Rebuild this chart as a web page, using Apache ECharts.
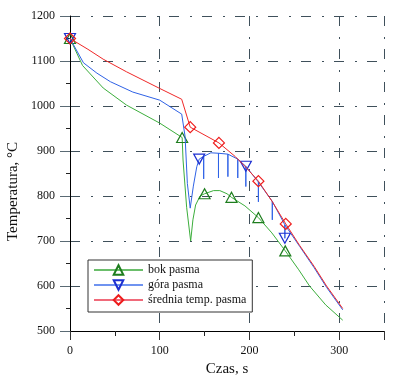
<!DOCTYPE html>
<html>
<head>
<meta charset="utf-8">
<script src="https://cdn.jsdelivr.net/npm/echarts@6/dist/echarts.min.js"></script>
<style>
html,body{margin:0;padding:0;background:#fff;}
#c{width:400px;height:378px;}
</style>
</head>
<body>
<div id="c"></div>
<script>
// ---- data (time in s, temperature in °C) ----
const seriesNames = ['bok pasma', 'góra pasma', 'średnia temp. pasma'];

const bokT = [0, 14, 37, 63, 100, 125, 126, 130, 134.5, 137, 140, 145, 150, 160, 167, 175, 180, 195, 210, 225, 240, 255, 267, 285, 304];
const bokV = [1150, 1090, 1040, 1002, 962, 930, 880, 775, 700, 747, 780, 800, 805, 812, 812, 805, 797, 778, 752, 718, 678, 636, 600, 558, 524];
const bokMarks = [0, 125, 150, 180, 210, 240];

const goraT = [0, 15, 30, 45, 70, 100, 124.5, 128.3, 130.8, 134, 137.5, 141.3, 144,
  149, 149, 149, 157, 165.5, 165.5, 165.5, 176, 176, 176, 187, 187, 187,
  196, 196, 196, 210, 210, 210, 225.5, 225.5, 225.5, 239.5, 239.5, 239.5,
  256, 272, 286, 304];
const goraV = [1150, 1096, 1073, 1054, 1031, 1013, 982, 932, 828, 773, 822, 865, 882,
  888, 838, 888, 896, 895, 840, 895, 893, 843, 893, 882, 840, 882,
  866, 821, 866, 831, 787, 831, 788, 747, 788, 736, 706, 736,
  688, 641, 597, 547];
const goraMarkIdx = [0, 12, 26, 36];

const sredT = [0, 20, 37, 63, 100, 124.5, 134, 166, 184, 196, 210, 225, 240.5, 256, 272, 286, 304];
const sredV = [1150, 1126, 1104, 1076, 1039, 1015, 953, 918, 888, 864, 833, 789, 738, 690, 644, 600, 550];
const sredMarks = [0, 134, 166, 210, 240.5];

const xTicks = {min: 0, max: 350, interval: 100};
const yTicks = {min: 500, max: 1200, interval: 100};

// ---- build ----
function build(ts, vs, isMark) {
  return ts.map((t, i) => {
    const item = {value: [t, vs[i]]};
    if (!isMark(t, i)) item.symbol = 'none';
    return item;
  });
}
const bokData = build(bokT, bokV, (t) => bokMarks.indexOf(t) >= 0);
const goraData = build(goraT, goraV, (t, i) => goraMarkIdx.indexOf(i) >= 0);
const sredData = build(sredT, sredV, (t) => sredMarks.indexOf(t) >= 0);

const FONT = 'Liberation Serif';
const gridDash = [10, 11, 2, 10];
const gridColor = '#3f505b';

const chart = echarts.init(document.getElementById('c'), null, {renderer: 'canvas'});
chart.setOption({
  animation: false,
  backgroundColor: '#ffffff',
  grid: {left: 70, right: 16, top: 16, bottom: 47, containLabel: false, outerBoundsMode: 'none'},
  xAxis: {
    type: 'value', min: xTicks.min, max: xTicks.max, interval: xTicks.interval,
    name: 'Czas, s', nameLocation: 'middle', nameGap: 27,
    nameTextStyle: {fontFamily: FONT, fontSize: 15, color: '#111'},
    axisLine: {show: true, lineStyle: {color: '#000', width: 1}},
    axisTick: {show: true, length: 9, lineStyle: {color: '#333'}},
    minorTick: {show: true, splitNumber: 2, length: 5, lineStyle: {color: '#222'}},
    axisLabel: {fontFamily: FONT, fontSize: 12, color: '#111', margin: 14, showMaxLabel: false,
      formatter: (v) => String(v)},
    splitLine: {show: true, lineStyle: {color: gridColor, type: gridDash, width: 1}}
  },
  yAxis: {
    type: 'value', min: yTicks.min, max: yTicks.max, interval: yTicks.interval,
    name: 'Temperatura, °C', nameLocation: 'middle', nameGap: 46, nameRotate: 90,
    nameTextStyle: {fontFamily: FONT, fontSize: 15, color: '#111', padding: [0, 36, 0, 0]},
    axisLine: {show: true, lineStyle: {color: '#000', width: 1}},
    axisTick: {show: true, length: 10, lineStyle: {color: '#5a6a74'}},
    minorTick: {show: true, splitNumber: 2, length: 4, lineStyle: {color: '#222'}},
    axisLabel: {fontFamily: FONT, fontSize: 12, color: '#111', margin: 15,
      formatter: (v) => String(v)},
    splitLine: {show: true, lineStyle: {color: gridColor, type: gridDash, width: 1}}
  },
  legend: {
    orient: 'vertical', left: 88, top: 260,
    padding: [4, 6, 6, 5],
    backgroundColor: '#fff', borderColor: '#333', borderWidth: 1,
    itemWidth: 49, itemHeight: 12, itemGap: 3,
    textStyle: {fontFamily: FONT, fontSize: 12, color: '#111'},
    data: [
      {name: seriesNames[0], lineStyle: {color: '#3aa83a', width: 1.5}},
      {name: seriesNames[1], lineStyle: {color: '#6f93f0', width: 2}},
      {name: seriesNames[2], lineStyle: {color: '#f06a7a', width: 2}}
    ]
  },
  series: [
    {
      name: seriesNames[0], type: 'line', data: bokData,
      symbol: 'triangle', symbolSize: [11, 10], z: 3,
      lineStyle: {color: '#3cae3c', width: 1},
      itemStyle: {color: 'rgba(255,255,255,0)', borderColor: '#1e7d1e', borderWidth: 1.2}
    },
    {
      name: seriesNames[1], type: 'line', data: goraData,
      symbol: 'triangle', symbolRotate: 180, symbolSize: [11, 10], z: 4,
      lineStyle: {color: '#2f62e6', width: 1},
      itemStyle: {color: 'rgba(255,255,255,0)', borderColor: '#1c2fd0', borderWidth: 1.2}
    },
    {
      name: seriesNames[2], type: 'line', data: sredData,
      symbol: 'diamond', symbolSize: [11, 11], z: 5,
      lineStyle: {color: '#f02828', width: 1},
      itemStyle: {color: 'rgba(255,255,255,0)', borderColor: '#ee1c1c', borderWidth: 1.2}
    }
  ]
});
</script>
</body>
</html>
